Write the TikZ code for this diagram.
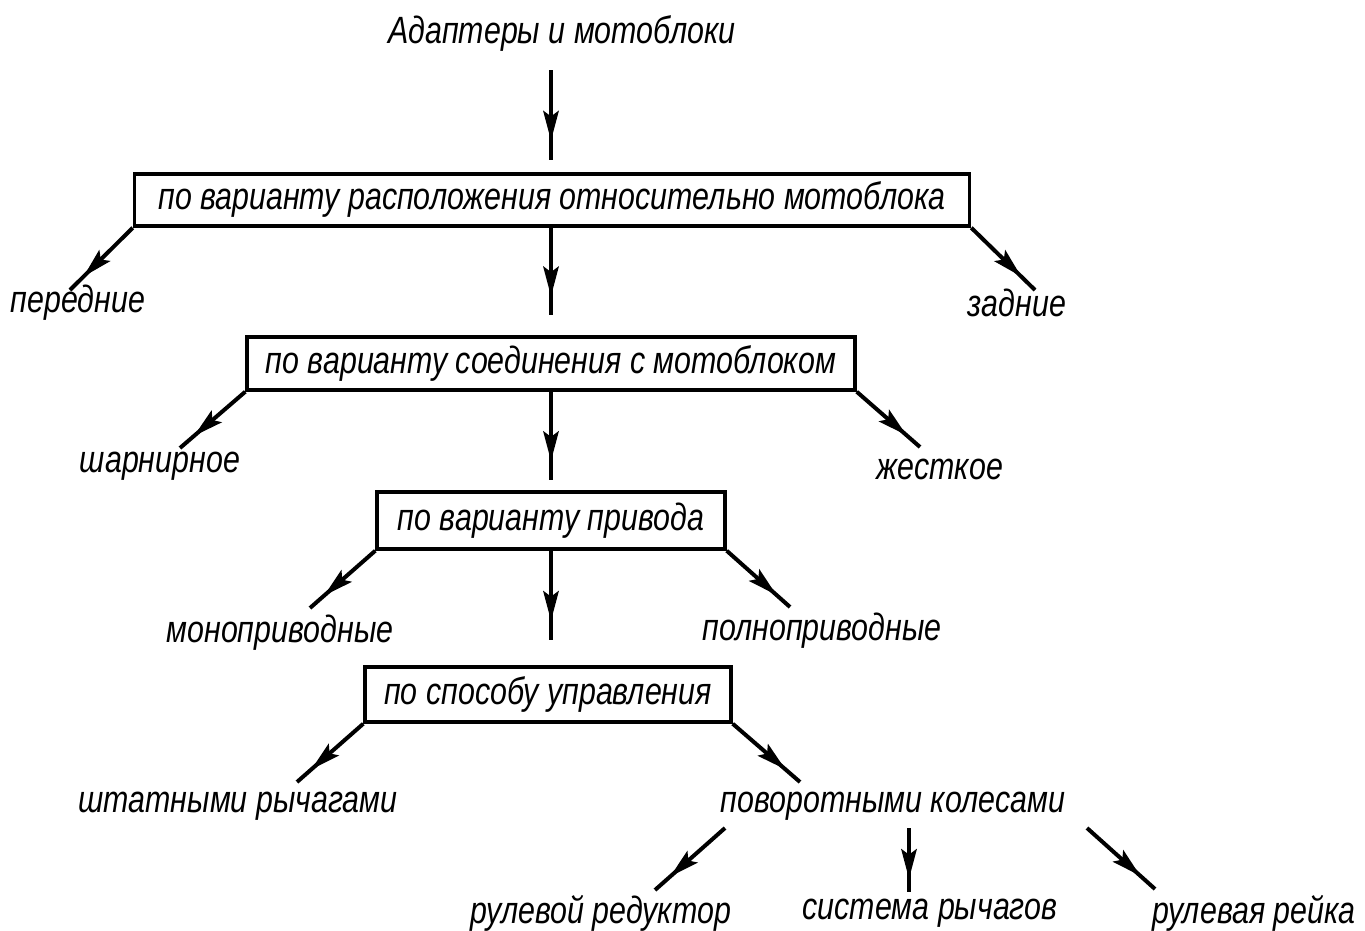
\documentclass[tikz,border=0pt]{standalone}
\usepackage{fontspec}
\setmainfont{Liberation Sans}[FakeStretch=0.8]
\usetikzlibrary{decorations.markings}
\tikzset{
  txt/.style={inner sep=0pt, font=\itshape\fontsize{38}{42}\selectfont},
  box/.style={txt, draw, line width=3.5pt},
  conn/.style={line width=4pt, postaction={decorate},
    decoration={markings, mark=at position 0.76 with {\fill (2pt,0pt) -- (-28pt,8pt) -- (-22pt,0pt) -- (-28pt,-8pt) -- cycle;}}}
}
\begin{document}
\begin{tikzpicture}[x=1pt,y=-1pt]
\useasboundingbox (0,0) rectangle (1365,930);
% nodes
\node[txt] (title) at (562,34) {Адаптеры и мотоблоки};
\node[box, minimum width=835pt, minimum height=52pt] (b1) at (552,200) {по варианту расположения относительно мотоблока};
\node[txt] (l1a) at (78,303) {передние};
\node[txt] (l1b) at (1017,303) {задние};
\node[box, minimum width=608pt, minimum height=53pt] (b2) at (551,363.5) {по варианту соединения с мотоблоком};
\node[txt] (l2a) at (160,466) {шарнирное};
\node[txt] (l2b) at (940,469) {жесткое};
\node[box, minimum width=348pt, minimum height=57pt] (b3) at (551,520.5) {по варианту привода};
\node[txt] (l3a) at (280,633) {моноприводные};
\node[txt] (l3b) at (822,631) {полноприводные};
\node[box, minimum width=366pt, minimum height=55pt] (b4) at (548,694.5) {по способу управления};
\node[txt] (l4a) at (238,806) {штатными рычагами};
\node[txt] (l4b) at (893,806) {поворотными колесами};
\node[txt] (l5a) at (601,913) {рулевой редуктор};
\node[txt] (l5b) at (930,913) {система рычагов};
\node[txt] (l5c) at (1254,913) {рулевая рейка};
% coordinates
\coordinate (t0) at (551,70);
\coordinate (t1) at (551,160);
\coordinate (e1a) at (70,290);
\coordinate (e1b) at (1035,290);
\coordinate (e1c) at (551,315);
\coordinate (e2a) at (180,448);
\coordinate (e2b) at (920,447);
\coordinate (e2c) at (551,480);
\coordinate (e3a) at (310,608);
\coordinate (e3b) at (790,607);
\coordinate (e3c) at (551,640);
\coordinate (e4a) at (297,782);
\coordinate (e4b) at (800,782);
\coordinate (s5a) at (725,828);
\coordinate (s5b) at (909,828);
\coordinate (s5c) at (1087,828);
\coordinate (e5a) at (655,890);
\coordinate (e5b) at (909,892);
\coordinate (e5c) at (1155,889);
% connectors
\draw[conn] (t0) -- (t1);
\draw[conn] (b1.south west) -- (e1a);
\draw[conn] (b1.south east) -- (e1b);
\draw[conn] (b1.south -| t0) -- (e1c);
\draw[conn] (b2.south west) -- (e2a);
\draw[conn] (b2.south east) -- (e2b);
\draw[conn] (b2.south) -- (e2c);
\draw[conn] (b3.south west) -- (e3a);
\draw[conn] (b3.south east) -- (e3b);
\draw[conn] (b3.south) -- (e3c);
\draw[conn] (b4.south west) -- (e4a);
\draw[conn] (b4.south east) -- (e4b);
\draw[conn] (s5a) -- (e5a);
\draw[conn] (s5b) -- (e5b);
\draw[conn] (s5c) -- (e5c);
\end{tikzpicture}
\end{document}
